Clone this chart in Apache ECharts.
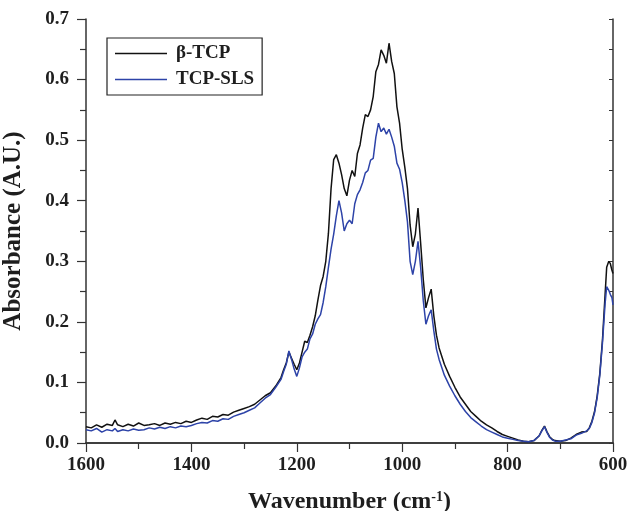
<!DOCTYPE html>
<html>
<head>
<meta charset="utf-8">
<script src="https://cdn.jsdelivr.net/npm/echarts@6/dist/echarts.min.js"></script>
<style>
  html, body { margin: 0; padding: 0; background: #fff; }
  #chart { width: 630px; height: 511px; }
</style>
</head>
<body>
<div id="chart"></div>
<script>
// wavenumber (cm-1)
const wavenumbers = [1600,1590,1580,1570,1560,1550,1545,1540,1530,1520,1510,1500,1490,1480,1470,1460,1450,1440,1430,1420,1410,1400,1390,1380,1370,1360,1350,1340,1330,1320,1310,1300,1290,1280,1270,1260,1250,1240,1230,1225,1220,1215,1210,1205,1200,1195,1190,1185,1180,1175,1170,1165,1160,1155,1150,1145,1140,1135,1130,1125,1120,1115,1110,1105,1100,1095,1090,1085,1080,1075,1070,1065,1060,1055,1050,1045,1040,1035,1030,1025,1020,1015,1010,1005,1000,995,990,985,980,975,970,965,960,955,950,945,940,935,930,920,910,900,890,880,870,860,850,840,830,820,810,800,790,780,770,760,750,740,735,730,725,720,715,710,700,690,680,670,660,650,645,640,635,630,625,620,615,612,608,605,602,600];

const betaTCP = [0.027,0.025,0.030,0.026,0.031,0.029,0.038,0.030,0.027,0.031,0.028,0.033,0.029,0.030,0.032,0.029,0.033,0.031,0.034,0.032,0.036,0.034,0.038,0.041,0.039,0.044,0.043,0.047,0.046,0.051,0.054,0.057,0.060,0.064,0.071,0.078,0.083,0.094,0.108,0.121,0.132,0.150,0.140,0.130,0.121,0.132,0.150,0.168,0.166,0.178,0.192,0.210,0.236,0.260,0.275,0.300,0.346,0.420,0.468,0.476,0.462,0.443,0.420,0.408,0.434,0.450,0.440,0.478,0.492,0.520,0.542,0.539,0.550,0.572,0.613,0.625,0.649,0.640,0.627,0.660,0.630,0.610,0.555,0.528,0.485,0.455,0.420,0.360,0.324,0.345,0.388,0.330,0.270,0.223,0.240,0.254,0.210,0.178,0.157,0.130,0.110,0.092,0.076,0.064,0.052,0.044,0.036,0.030,0.025,0.019,0.014,0.011,0.008,0.005,0.003,0.002,0.004,0.012,0.021,0.028,0.018,0.010,0.006,0.004,0.003,0.004,0.008,0.014,0.018,0.019,0.025,0.036,0.052,0.078,0.115,0.170,0.245,0.290,0.300,0.296,0.285,0.280];

const tcpSLS = [0.022,0.020,0.024,0.018,0.022,0.020,0.024,0.019,0.022,0.020,0.023,0.021,0.022,0.025,0.023,0.026,0.024,0.027,0.025,0.028,0.027,0.029,0.032,0.034,0.033,0.037,0.036,0.040,0.039,0.044,0.047,0.050,0.054,0.058,0.066,0.074,0.080,0.092,0.105,0.118,0.130,0.152,0.138,0.122,0.110,0.124,0.142,0.150,0.155,0.172,0.180,0.196,0.205,0.212,0.232,0.258,0.290,0.320,0.345,0.375,0.400,0.380,0.350,0.362,0.368,0.362,0.395,0.410,0.418,0.430,0.446,0.450,0.467,0.470,0.505,0.528,0.514,0.520,0.510,0.518,0.505,0.490,0.462,0.452,0.430,0.400,0.365,0.300,0.278,0.300,0.333,0.290,0.235,0.196,0.210,0.220,0.185,0.155,0.138,0.112,0.094,0.078,0.064,0.052,0.042,0.035,0.028,0.022,0.018,0.014,0.010,0.008,0.006,0.004,0.003,0.002,0.004,0.012,0.020,0.027,0.017,0.009,0.005,0.003,0.003,0.005,0.007,0.013,0.016,0.020,0.024,0.034,0.050,0.075,0.112,0.165,0.230,0.258,0.252,0.245,0.240,0.228];

const xTicks = [1600, 1400, 1200, 1000, 800, 600];

const pair = ys => wavenumbers.map((w, i) => [w, ys[i]]);

const serif = '"Liberation Serif", "Times New Roman", serif';
const axisColor = '#333';
const textColor = '#1e1e1e';

const chart = echarts.init(document.getElementById('chart'));
const option = {
    animation: false,
    backgroundColor: '#fff',
    textStyle: { fontFamily: serif },
    grid: { left: 86, right: 17, top: 19, bottom: 68, containLabel: false, outerBoundsMode: 'none' },
    legend: {
        left: 107, top: 38,
        orient: 'vertical',
        icon: 'rect',
        itemWidth: 52, itemHeight: 1.6, itemGap: 7,
        padding: [6, 8, 6, 8],
        borderColor: '#222', borderWidth: 1.2,
        textStyle: { fontFamily: serif, fontWeight: 'bold', fontSize: 19, color: textColor, padding: [0, 0, 0, 4] },
        data: ['β-TCP', 'TCP-SLS']
    },
    xAxis: [{
        type: 'value', inverse: true, min: 600, max: 1600, interval: 200,
        name: '{b|Wavenumber (cm}{s|-1}{b|)}',
        nameLocation: 'middle', nameGap: 47,
        nameTextStyle: {
            rich: {
                b: { fontFamily: serif, fontWeight: 'bold', fontSize: 24, color: textColor },
                s: { fontFamily: serif, fontWeight: 'bold', fontSize: 14, color: textColor, padding: [0, 0, 9, 0] }
            }
        },
        axisLine: { lineStyle: { color: axisColor, width: 1.5 } },
        axisTick: { length: 9, lineStyle: { color: axisColor, width: 1.2 } },
        minorTick: { show: true, splitNumber: 2, length: 6, lineStyle: { color: axisColor, width: 1.2 } },
        splitLine: { show: false },
        axisLabel: {
            margin: 13, fontFamily: serif, fontWeight: 'bold', fontSize: 19, color: textColor,
            formatter: v => xTicks.includes(v) ? String(v) : ''
        }
    }, {
        type: 'value', position: 'top', inverse: true, min: 600, max: 1600, interval: 100,
        axisLine: { lineStyle: { color: axisColor, width: 1.5 } },
        axisTick: { inside: true, length: 5, lineStyle: { color: axisColor, width: 1 } },
        axisLabel: { show: false },
        splitLine: { show: false }
    }],
    yAxis: [{
        type: 'value', min: 0, max: 0.7, interval: 0.1,
        name: 'Absorbance (A.U.)',
        nameLocation: 'middle', nameGap: 60,
        nameTextStyle: { fontFamily: serif, fontWeight: 'bold', fontSize: 25, color: textColor },
        axisLine: { show: true, lineStyle: { color: axisColor, width: 1.5 } },
        axisTick: { show: true, length: 9, lineStyle: { color: axisColor, width: 1.2 } },
        minorTick: { show: true, splitNumber: 2, length: 6, lineStyle: { color: axisColor, width: 1.2 } },
        splitLine: { show: false },
        axisLabel: {
            margin: 17, fontFamily: serif, fontWeight: 'bold', fontSize: 19, color: textColor,
            formatter: v => v.toFixed(1)
        }
    }, {
        type: 'value', position: 'right', min: 0, max: 0.7, interval: 0.05,
        axisLine: { show: true, lineStyle: { color: axisColor, width: 1.5 } },
        axisTick: { show: true, inside: true, length: 4, lineStyle: { color: axisColor, width: 1 } },
        axisLabel: { show: false },
        splitLine: { show: false }
    }],
    series: [{
        name: 'β-TCP', type: 'line', data: pair(betaTCP),
        showSymbol: false, symbol: 'none',
        lineStyle: { color: '#111', width: 1.5 }, itemStyle: { color: '#111' }
    }, {
        name: 'TCP-SLS', type: 'line', data: pair(tcpSLS),
        showSymbol: false, symbol: 'none',
        lineStyle: { color: '#2d43a8', width: 1.5 }, itemStyle: { color: '#2d43a8' }
    }]
};
option && chart.setOption(option);
</script>
</body>
</html>
